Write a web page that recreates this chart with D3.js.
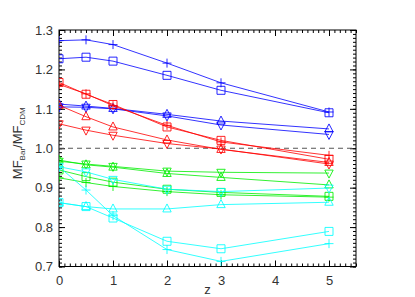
<!DOCTYPE html>
<html>
<head>
<meta charset="utf-8">
<script src="https://d3js.org/d3.v7.min.js"></script>
<style>
  body { margin: 0; background: #fff; }
  text { font-family: "Liberation Sans", Arial, sans-serif; }
</style>
</head>
<body>
<div id="chart"></div>
<script>
// redshifts sampled
var zs = [0, 0.5, 1, 2, 3, 5];

// blue
var bluePlus   = [1.273, 1.275, 1.263, 1.216, 1.166, 1.092];
var blueSquare = [1.227, 1.231, 1.221, 1.185, 1.147, 1.090];
var blueTri    = [1.112, 1.107, 1.101, 1.086, 1.069, 1.049];
var blueDown   = [1.105, 1.104, 1.100, 1.082, 1.059, 1.035];
// red
var redPlus    = [1.162, 1.138, 1.108, 1.058, 1.016, 0.982];
var redSquare  = [1.167, 1.137, 1.111, 1.054, 1.020, 0.972];
var redTri     = [1.109, 1.080, 1.054, 1.021, 0.997, 0.964];
var redDown    = [1.062, 1.046, 1.033, 1.012, 0.998, 0.960];
// green
var greenPlus   = [0.925, 0.913, 0.903, 0.890, 0.882, 0.876];
var greenSquare = [0.945, 0.928, 0.914, 0.896, 0.888, 0.878];
var greenTri    = [0.970, 0.958, 0.952, 0.936, 0.926, 0.907];
var greenDown   = [0.967, 0.960, 0.954, 0.942, 0.939, 0.937];
// cyan
var cyanPlus   = [0.953, 0.894, 0.829, 0.743, 0.713, 0.758];
var cyanSquare = [0.862, 0.852, 0.823, 0.764, 0.745, 0.789];
var cyanTri    = [0.862, 0.852, 0.846, 0.846, 0.857, 0.863];
var cyanDown   = [0.953, 0.940, 0.921, 0.896, 0.890, 0.899];

var xTicks = [0, 1, 2, 3, 4, 5];
var yTicks = [0.7, 0.8, 0.9, 1.0, 1.1, 1.2, 1.3];

var series = [
  {v: bluePlus, c: "#0000ff", s: "plus"}, {v: blueSquare, c: "#0000ff", s: "square"},
  {v: blueTri, c: "#0000ff", s: "tri"}, {v: blueDown, c: "#0000ff", s: "down"},
  {v: redPlus, c: "#ff0000", s: "plus"}, {v: redSquare, c: "#ff0000", s: "square"},
  {v: redTri, c: "#ff0000", s: "tri"}, {v: redDown, c: "#ff0000", s: "down"},
  {v: greenPlus, c: "#00ee00", s: "plus"}, {v: greenSquare, c: "#00ee00", s: "square"},
  {v: greenTri, c: "#00ee00", s: "tri"}, {v: greenDown, c: "#00ee00", s: "down"},
  {v: cyanPlus, c: "#00ffff", s: "plus"}, {v: cyanSquare, c: "#00ffff", s: "square"},
  {v: cyanTri, c: "#00ffff", s: "tri"}, {v: cyanDown, c: "#00ffff", s: "down"}
];

var margin = {top: 30, right: 59, bottom: 30, left: 59},
    width = 415 - margin.left - margin.right,
    height = 297 - margin.top - margin.bottom - 0.5;

var svg = d3.select("#chart").append("svg")
    .attr("width", 415).attr("height", 297)
  .append("g")
    .attr("transform", "translate(" + margin.left + "," + margin.top + ")");

var x = d3.scaleLinear().domain([0, 5.5]).range([0, width]);
var y = d3.scaleLinear().domain([0.7, 1.3]).range([height, 0]);

svg.append("clipPath").attr("id", "clip")
  .append("rect").attr("width", width).attr("height", height);

// minor ticks
var xMinor = d3.range(0, 56).map(function(d) { return d / 10; });
var yMinor = d3.range(70, 131).map(function(d) { return d / 100; });

function styleAxis(g) {
  g.select(".domain").remove();
  g.selectAll("line").attr("stroke", "#000");
  g.selectAll("text").attr("fill", "#333").style("font-size", "13px");
}

svg.append("g").attr("transform", "translate(0," + height + ")")
  .call(d3.axisBottom(x).tickValues(xMinor).tickFormat("").tickSize(-3)).call(styleAxis);
svg.append("g")
  .call(d3.axisTop(x).tickValues(xMinor).tickFormat("").tickSize(-3)).call(styleAxis);
svg.append("g")
  .call(d3.axisLeft(y).tickValues(yMinor).tickFormat("").tickSize(-3)).call(styleAxis);
svg.append("g").attr("transform", "translate(" + width + ",0)")
  .call(d3.axisRight(y).tickValues(yMinor).tickFormat("").tickSize(-3)).call(styleAxis);

// major ticks
svg.append("g").attr("transform", "translate(0," + height + ")")
  .call(d3.axisBottom(x).tickValues(xTicks).tickFormat(d3.format("d")).tickSize(-6).tickPadding(9))
  .call(styleAxis);
svg.append("g")
  .call(d3.axisTop(x).tickValues(xTicks).tickFormat("").tickSize(-6)).call(styleAxis);
svg.append("g")
  .call(d3.axisLeft(y).tickValues(yTicks).tickFormat(d3.format(".1f")).tickSize(-6).tickPadding(6))
  .call(styleAxis);
svg.append("g").attr("transform", "translate(" + width + ",0)")
  .call(d3.axisRight(y).tickValues(yTicks).tickFormat("").tickSize(-6)).call(styleAxis);

// frame
svg.append("rect").attr("width", width).attr("height", height)
  .attr("fill", "none").attr("stroke", "#000").attr("stroke-width", 1);

// reference line at 1
svg.append("line")
  .attr("x1", 0).attr("x2", width)
  .attr("y1", y(1)).attr("y2", y(1))
  .attr("stroke", "#555").attr("stroke-dasharray", "5,4");

var symbols = {
  plus: "M-4.5,0H4.5M0,-4.5V4.5",
  square: "M-4,-4H4V4H-4Z",
  tri: "M0,-5L4.2,3L-4.2,3Z",
  down: "M0,5L4.2,-3L-4.2,-3Z"
};

var line = d3.line()
  .x(function(d, i) { return x(zs[i]); })
  .y(function(d) { return y(d); });

var plot = svg.append("g").attr("clip-path", "url(#clip)");

series.forEach(function(s) {
  plot.append("path")
    .datum(s.v)
    .attr("d", line)
    .attr("fill", "none")
    .attr("stroke", s.c)
    .attr("stroke-opacity", 0.8)
    .attr("stroke-width", 1);
  plot.selectAll(null)
    .data(s.v)
    .enter().append("path")
    .attr("transform", function(d, i) { return "translate(" + x(zs[i]) + "," + y(d) + ")"; })
    .attr("d", symbols[s.s])
    .attr("fill", "none")
    .attr("stroke", s.c)
    .attr("stroke-opacity", 0.85)
    .attr("stroke-width", 1);
});

// axis labels
svg.append("text")
  .attr("x", width / 2).attr("y", height + 27)
  .attr("text-anchor", "middle")
  .style("font-size", "13px").attr("fill", "#333")
  .text("z");

var yl = svg.append("text")
  .attr("transform", "translate(" + (-37) + "," + (y(1.0) - 5) + ") rotate(-90)")
  .attr("text-anchor", "middle")
  .style("font-size", "13px").attr("fill", "#333");
yl.append("tspan").text("MF");
yl.append("tspan").attr("dy", 3).style("font-size", "8px").text("Bar");
yl.append("tspan").attr("dy", -3).text("/MF");
yl.append("tspan").attr("dy", 3).style("font-size", "8px").text("CDM");
</script>
</body>
</html>
